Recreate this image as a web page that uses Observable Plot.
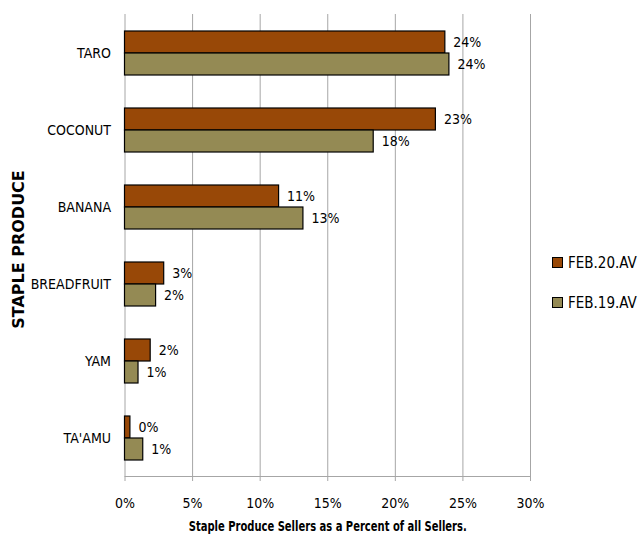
<!DOCTYPE html>
<html>
<head>
<meta charset="utf-8">
<script src="https://cdn.jsdelivr.net/npm/d3@7"></script>
<script src="https://cdn.jsdelivr.net/npm/@observablehq/plot@0.6"></script>
<style>
  html, body { margin: 0; padding: 0; background: #fff; }
  #wrap { position: relative; width: 638px; height: 537px; font-family: "DejaVu Sans Condensed", "DejaVu Sans", sans-serif; }
  #legend { position: absolute; left: 552px; top: 254px; font-size: 15px; color: #000; }
  .li { display: flex; align-items: center; height: 17px; margin-bottom: 23px; }
  .sw { width: 9px; height: 9px; border: 1px solid #000; margin-right: 5px; }
</style>
</head>
<body>
<div id="wrap"></div>
<script>
const categories = ["TARO", "COCONUT", "BANANA", "BREADFRUIT", "YAM", "TA'AMU"];
const series = ["FEB.20.AV", "FEB.19.AV"];
const colors = ["#984807", "#948A54"];
const feb20 = [23.7, 23.0, 11.4, 2.9, 1.9, 0.4];
const feb19 = [24.0, 18.4, 13.2, 2.3, 1.0, 1.35];
const xTicks = [0, 5, 10, 15, 20, 25, 30];
const xTitle = "Staple Produce Sellers as a Percent of all Sellers.";
const yTitle = "STAPLE PRODUCE";

const rows20 = categories.map((c, i) => ({cat: c, series: series[0], v: feb20[i]}));
const rows19 = categories.map((c, i) => ({cat: c, series: series[1], v: feb19[i]}));
const fmt = d => Math.round(d.v) + "%";
const font = "DejaVu Sans Condensed, DejaVu Sans, sans-serif";

const chart = Plot.plot({
  width: 638,
  height: 537,
  marginLeft: 124.5,
  marginRight: 108,
  marginTop: 14,
  marginBottom: 61,
  style: {fontFamily: font, fontSize: "14px", color: "#000", background: "#fff"},
  x: {domain: [0, 30], ticks: xTicks, tickFormat: d => d + "%", label: null},
  y: {domain: categories, paddingInner: 0.43, paddingOuter: 0.215, label: null},
  marks: [
    Plot.ruleX(xTicks, {stroke: "#a6a6a6", strokeWidth: 1}),
    Plot.frame({anchor: "bottom", stroke: "#a6a6a6"}),
    Plot.axisX({ticks: xTicks, tickFormat: d => d + "%", tickSize: 5, tickPadding: 17, stroke: "#a6a6a6", fontSize: 14, color: "#000"}),
    Plot.axisY({tickSize: 0, tickPadding: 14, fontSize: 14}),
    Plot.barX(rows20, {x: "v", y: "cat", fill: colors[0], stroke: "#000", strokeWidth: 1.2, insetBottom: 22}),
    Plot.barX(rows19, {x: "v", y: "cat", fill: colors[1], stroke: "#000", strokeWidth: 1.2, insetTop: 22}),
    Plot.text(rows20, {x: "v", y: "cat", text: fmt, dx: 8, dy: -11, textAnchor: "start", fontSize: 14, fill: "#000"}),
    Plot.text(rows19, {x: "v", y: "cat", text: fmt, dx: 8, dy: 11, textAnchor: "start", fontSize: 14, fill: "#000"}),
    Plot.text([xTitle], {frameAnchor: "bottom", dy: 54, text: d => d, fontWeight: "bold", fontSize: 14, fill: "#000"}),
    Plot.text([yTitle], {frameAnchor: "left", dx: -106, dy: 4, rotate: -90, textAnchor: "middle", text: d => d, fontWeight: "bold", fontSize: 16, fill: "#000", fontFamily: "DejaVu Sans"})
  ]
});
// compress the x-axis title horizontally to match the narrow original typeface
d3.select(chart).selectAll("text").filter(function() { return this.textContent === xTitle; })
  .attr("textLength", 278).attr("lengthAdjust", "spacingAndGlyphs");

const wrap = document.getElementById("wrap");
wrap.appendChild(chart);

const legend = document.createElement("div");
legend.id = "legend";
series.forEach((s, i) => {
  const li = document.createElement("div");
  li.className = "li";
  const sw = document.createElement("div");
  sw.className = "sw";
  sw.style.background = colors[i];
  const t = document.createElement("span");
  t.textContent = s;
  li.appendChild(sw); li.appendChild(t);
  legend.appendChild(li);
});
wrap.appendChild(legend);
</script>
</body>
</html>
